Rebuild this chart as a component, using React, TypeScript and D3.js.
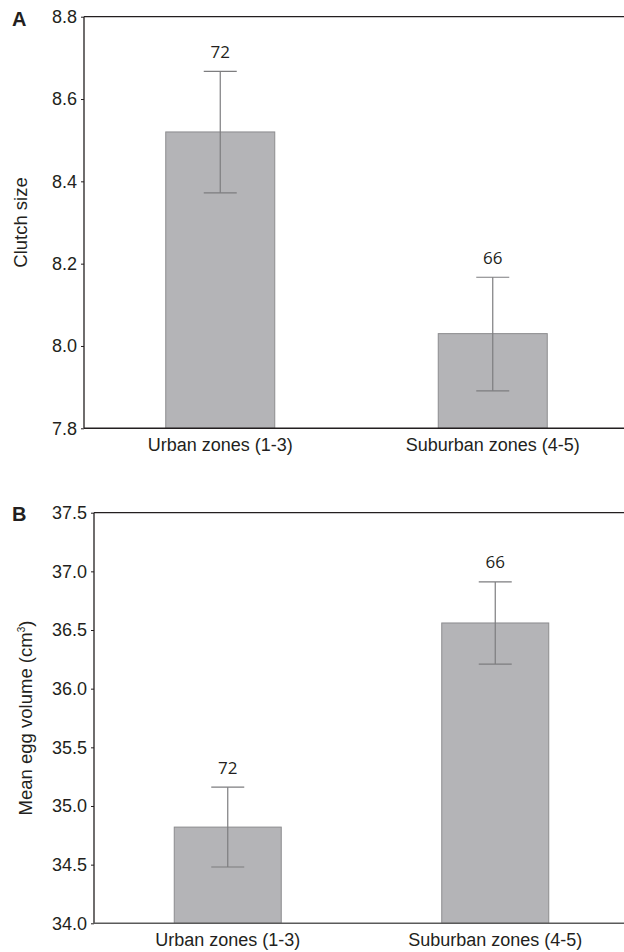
import React, { useEffect, useRef } from 'react';
import * as d3 from 'd3';

// categories shared by both panels
const categories = ['Urban zones (1-3)', 'Suburban zones (4-5)'];

// panel A: clutch size
const clutchMeans = [8.52, 8.03];
const clutchUpper = [8.667, 8.167];
const clutchLower = [8.372, 7.891];
const clutchN = [72, 66];
const clutchTicks = [7.8, 8.0, 8.2, 8.4, 8.6, 8.8];

// panel B: mean egg volume
const volumeMeans = [34.82, 36.56];
const volumeUpper = [35.16, 36.91];
const volumeLower = [34.48, 36.21];
const volumeN = [72, 66];
const volumeTicks = [34.0, 34.5, 35.0, 35.5, 36.0, 36.5, 37.0, 37.5];

const WIDTH = 624;
const HEIGHT = 952;
const INK = '#231f20';
const BAR_FILL = '#b4b4b7';
const BAR_STROKE = '#8c8c8e';
const ERR = '#7d7d7f';
const SANS = '"Liberation Sans", Arial, sans-serif';

interface PanelProps {
  letter: string;
  yTitle: React.ReactNode;
  titleX: number;
  means: number[];
  upper: number[];
  lower: number[];
  ns: number[];
  ticks: number[];
  left: number;
  top: number;
  bottom: number;
  bottomStroke: string;
  letterY: number;
}

const Panel: React.FC<PanelProps> = ({
  letter, yTitle, titleX, means, upper, lower, ns, ticks, left, top, bottom, bottomStroke, letterY
}) => {
  const axisRef = useRef<SVGGElement>(null);
  const right = 629;

  const x = d3.scaleBand<string>()
    .domain(categories)
    .range([left, right])
    .paddingInner(0.6)
    .paddingOuter(0.3);

  const y = d3.scaleLinear()
    .domain([ticks[0], ticks[ticks.length - 1]])
    .range([bottom, top]);

  // y axis ticks drawn by d3
  useEffect(() => {
    if (!axisRef.current) return;
    const g = d3.select(axisRef.current);
    g.selectAll('*').remove();
    const axis = d3.axisLeft(y)
      .tickValues(ticks)
      .tickSize(3)
      .tickSizeOuter(0)
      .tickPadding(4)
      .tickFormat(d => (d as number).toFixed(1));
    g.call(axis);
    g.select('.domain').remove();
    g.selectAll('.tick line').attr('stroke', INK);
    g.selectAll('.tick text')
      .attr('fill', INK)
      .attr('font-family', SANS)
      .attr('font-size', 18);
  }, [ticks, top, bottom, left]);

  const capHalf = 16.5;
  const midY = (top + bottom) / 2;

  return (
    <g>
      <text x={12} y={letterY} fontFamily={SANS} fontWeight="bold" fontSize={20} fill={INK}>{letter}</text>
      <text
        transform={`translate(${titleX},${midY}) rotate(-90)`}
        textAnchor="middle"
        fontFamily={SANS}
        fontSize={18.5}
        fill={INK}
      >
        {yTitle}
      </text>

      {categories.map((c, i) => {
        const bx = x(c)!;
        const cx = bx + x.bandwidth() / 2;
        return (
          <g key={c}>
            <rect
              x={bx}
              y={y(means[i])}
              width={x.bandwidth()}
              height={bottom - y(means[i])}
              fill={BAR_FILL}
              stroke={BAR_STROKE}
              strokeWidth={1}
            />
            <line x1={cx} x2={cx} y1={y(lower[i])} y2={y(upper[i])} stroke={ERR} strokeWidth={1.2} />
            <line x1={cx - capHalf} x2={cx + capHalf} y1={y(upper[i])} y2={y(upper[i])} stroke={ERR} strokeWidth={1.2} />
            <line x1={cx - capHalf} x2={cx + capHalf} y1={y(lower[i])} y2={y(lower[i])} stroke={ERR} strokeWidth={1.2} />
            <text
              x={cx}
              y={y(upper[i]) - 13.5}
              textAnchor="middle"
              fontFamily='"Open Sans", sans-serif'
              fontSize={17}
              fill={INK}
            >
              {ns[i]}
            </text>
            <text
              x={cx}
              y={bottom + 23}
              textAnchor="middle"
              fontFamily={SANS}
              fontSize={18}
              fill={INK}
            >
              {c}
            </text>
          </g>
        );
      })}

      {/* frame: left axis, top line, bottom axis */}
      <line x1={left} x2={left} y1={top} y2={bottom} stroke={INK} strokeWidth={1.3} />
      <line x1={left} x2={right} y1={top} y2={top} stroke={INK} strokeWidth={1.3} />
      <line x1={left} x2={right} y1={bottom} y2={bottom} stroke={bottomStroke} strokeWidth={1.5} />
      <g ref={axisRef} transform={`translate(${left},0)`} />
    </g>
  );
};

const App: React.FC = () => {
  return (
    <div style={{ position: 'absolute', left: 0, top: 0 }}>
      <svg width={WIDTH} height={HEIGHT} style={{ display: 'block', background: '#ffffff' }}>
        <Panel
          letter="A"
          yTitle="Clutch size"
          titleX={27}
          means={clutchMeans}
          upper={clutchUpper}
          lower={clutchLower}
          ns={clutchN}
          ticks={clutchTicks}
          left={84}
          top={16.7}
          bottom={428.3}
          bottomStroke={INK}
          letterY={26}
        />
        <Panel
          letter="B"
          yTitle={<>Mean egg volume (cm<tspan fontSize={10} dy={-7}>3</tspan><tspan dy={7}>)</tspan></>}
          titleX={32}
          means={volumeMeans}
          upper={volumeUpper}
          lower={volumeLower}
          ns={volumeN}
          ticks={volumeTicks}
          left={94}
          top={512.7}
          bottom={923.3}
          bottomStroke="#5a5a5a"
          letterY={521}
        />
      </svg>
    </div>
  );
};

export default App;
